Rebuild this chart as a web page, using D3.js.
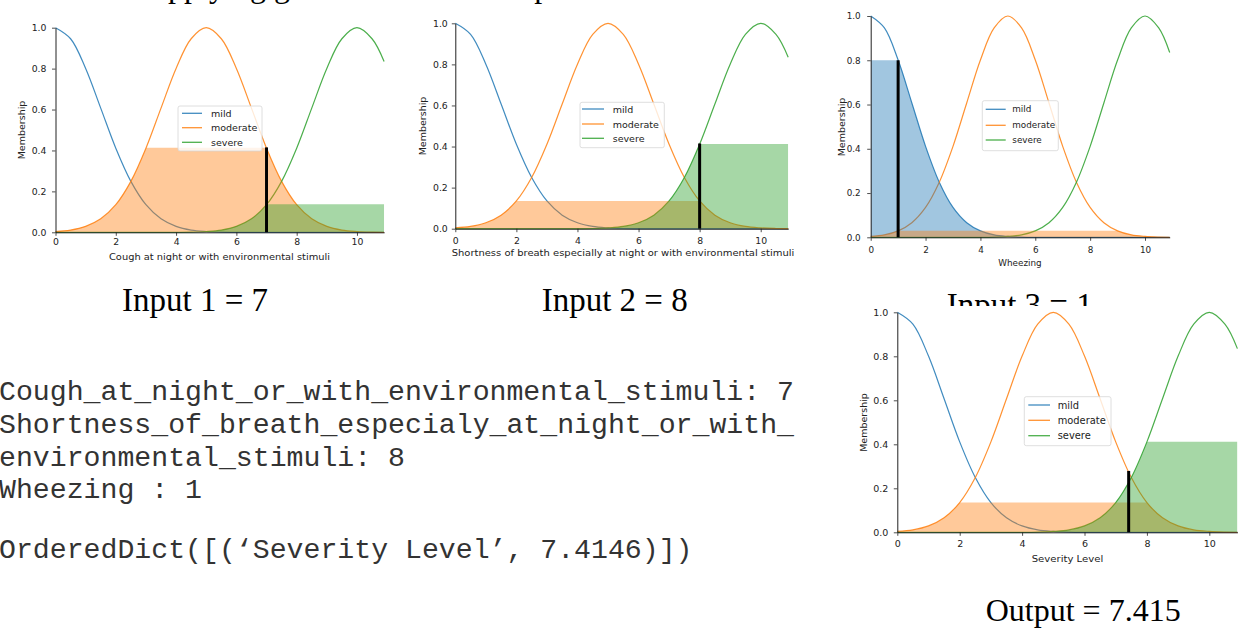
<!DOCTYPE html>
<html>
<head>
<meta charset="utf-8">
<script src="https://cdn.jsdelivr.net/npm/d3@7"></script>
<style>
  html, body { margin: 0; padding: 0; background: #fff; }
  svg { display: block; }
</style>
</head>
<body>
<svg id="chart" width="1240" height="628"></svg>
<script>
// ---------------- DATA ----------------
const xGrid = [0, 0.5, 1, 1.5, 2, 2.5, 3, 3.5, 4, 4.5, 5, 5.5, 6, 6.5, 7, 7.5, 8, 8.5, 9, 9.5, 10, 10.5, 10.9];
const mildMF = [1.000, 0.946, 0.801, 0.607, 0.411, 0.249, 0.135, 0.066, 0.029, 0.011, 0.004, 0.001, 0.000, 0, 0, 0, 0, 0, 0, 0, 0, 0, 0];
const moderateMF = [0.004, 0.011, 0.029, 0.066, 0.135, 0.249, 0.411, 0.607, 0.801, 0.946, 1.000, 0.946, 0.801, 0.607, 0.411, 0.249, 0.135, 0.066, 0.029, 0.011, 0.004, 0.001, 0.000];
const severeMF = [0, 0, 0, 0, 0, 0, 0, 0, 0.000, 0.001, 0.004, 0.011, 0.029, 0.066, 0.135, 0.249, 0.411, 0.607, 0.801, 0.946, 1.000, 0.946, 0.835];
const termNames = ["mild", "moderate", "severe"];
const axisLabels = [
  "Cough at night or with environmental stimuli",
  "Shortness of breath especially at night or with environmental stimuli",
  "Wheezing",
  "Severity Level"
];
const crispValues = [7, 8, 1, 7.415];
const crispLineTops = [0.415, 0.415, 0.80, 0.279];
const activationMild = [0, 0, 0.80, 0];
const activationModerate = [0.413, 0.135, 0.03, 0.135];
const activationSevere = [0.137, 0.412, 0, 0.412];
const xTickValues = [0, 2, 4, 6, 8, 10];
const yTickValues = [0, 0.2, 0.4, 0.6, 0.8, 1.0];
const captions = ["Input 1 = 7", "Input 2 = 8", "Input 3 = 1", "Output = 7.415"];
const topTitle = "Applying gaussian membership functions";
const consoleLines = [
  "Cough_at_night_or_with_environmental_stimuli: 7",
  "Shortness_of_breath_especialy_at_night_or_with_",
  "environmental_stimuli: 8",
  "Wheezing : 1",
  "",
  "OrderedDict([(\u2018Severity Level\u2019, 7.4146)])"
];

// ---------------- LAYOUT / STYLE ----------------
const termColors = ["#1f77b4", "#ff7f0e", "#2ca02c"];
const panels = [
  { x0: 55.5, x1: 384.1, y0: 232.3, y1: 27.7, fs: 9.3, tickBase: 245, yGap: 9,
    xlab: { x: 219.5, y: 260, w: 221 }, ylab: { x: 21.7, y: 130 },
    leg: { x: 178, y: 106, w: 84, h: 45, fs: 9.5, rows: [113.3, 127.7, 142.3], lx0: 182, lx1: 202, tx: 211 } },
  { x0: 455.3, x1: 788.2, y0: 228.7, y1: 23.3, fs: 9.3, tickBase: 244, yGap: 7.5,
    xlab: { x: 623, y: 256, w: 342.6 }, ylab: { x: 422.7, y: 126 },
    leg: { x: 580, y: 102.3, w: 84.3, h: 45.4, fs: 9.5, rows: [109, 124, 138.3], lx0: 582, lx1: 604, tx: 612.7 } },
  { x0: 870.7, x1: 1169.7, y0: 237.3, y1: 16, fs: 8.8, tickBase: 253, yGap: 10,
    xlab: { x: 1020, y: 265.7, w: 43.3 }, ylab: { x: 841, y: 127 },
    leg: { x: 982.3, y: 100.7, w: 76, h: 50, fs: 8.8, rows: [109.3, 125.3, 140], lx0: 985.7, lx1: 1005.7, tx: 1012.3 } },
  { x0: 897.3, x1: 1237.4, y0: 532.3, y1: 312.3, fs: 9.5, tickBase: 547.5, yGap: 9,
    xlab: { x: 1067.5, y: 561.7, w: 71.6 }, ylab: { x: 863.3, y: 422.5 },
    leg: { x: 1024.3, y: 396.7, w: 86.7, h: 49, fs: 9.9, rows: [405, 420.3, 435.7], lx0: 1028.3, lx1: 1050, tx: 1057.7 } }
];

const svg = d3.select("#chart");
svg.append("rect").attr("width", 1240).attr("height", 628).attr("fill", "#fff");
const defs = svg.append("defs");

// cut-off title at the very top (only descenders visible)
svg.append("text")
  .attr("x", 145).attr("y", -3.5)
  .attr("font-family", "'Liberation Serif', 'Times New Roman', serif")
  .attr("font-size", 32).attr("fill", "#000")
  .text(topTitle);

const mfSeries = [mildMF, moderateMF, severeMF];
const activations = [activationMild, activationModerate, activationSevere];

function drawPanel(p, i, g) {
  const x = d3.scaleLinear().domain([0, 10.9]).range([p.x0, p.x1]);
  const y = d3.scaleLinear().domain([0, 1]).range([p.y0, p.y1]);

  // membership curves
  const line = d3.line().x((d, k) => x(xGrid[k])).y(d => y(d)).curve(d3.curveCatmullRom.alpha(0.5));
  mfSeries.forEach((s, t) => {
    g.append("path").attr("d", line(s)).attr("fill", "none")
      .attr("stroke", termColors[t]).attr("stroke-width", 1.2).attr("stroke-opacity", 0.85);
  });

  // activation fills (membership clipped at the activation level)
  const area = d3.area().x((d, k) => x(xGrid[k])).y0(y(0)).y1(d => y(d)).curve(d3.curveCatmullRom.alpha(0.5));
  mfSeries.forEach((s, t) => {
    const lvl = activations[t][i];
    if (!lvl) return;
    const id = `clip-${i}-${t}`;
    defs.append("clipPath").attr("id", id).append("rect")
      .attr("x", x(0)).attr("y", y(lvl)).attr("width", x(10.9) - x(0)).attr("height", y(0) - y(lvl));
    g.append("path").attr("d", area(s)).attr("fill", termColors[t]).attr("fill-opacity", 0.42)
      .attr("clip-path", `url(#${id})`);
  });

  // crisp value line
  g.append("line")
    .attr("x1", x(crispValues[i])).attr("x2", x(crispValues[i]))
    .attr("y1", y(0)).attr("y2", y(crispLineTops[i]))
    .attr("stroke", "#000").attr("stroke-width", 3);

  // axes
  const xPad = p.tickBase - p.y0 - 3.5 - 0.71 * p.fs;
  const xAxis = g.append("g").attr("transform", `translate(0,${p.y0})`)
    .call(d3.axisBottom(x).tickValues(xTickValues).tickFormat(d3.format("d")).tickSize(3.5).tickSizeOuter(0).tickPadding(xPad));
  const yAxis = g.append("g").attr("transform", `translate(${p.x0},0)`)
    .call(d3.axisLeft(y).tickValues(yTickValues).tickFormat(d3.format(".1f")).tickSize(3.5).tickSizeOuter(0).tickPadding(p.yGap - 3.5));
  [xAxis, yAxis].forEach(a => {
    a.selectAll("path.domain").attr("stroke", "#222").attr("stroke-width", 1);
    a.selectAll(".tick line").attr("stroke", "#222").attr("stroke-width", 0.8);
    a.selectAll(".tick text").attr("font-family", "'DejaVu Sans', sans-serif")
      .attr("font-size", p.fs).attr("fill", "#222");
  });

  // axis labels
  g.append("text").attr("x", p.xlab.x - p.xlab.w / 2).attr("y", p.xlab.y)
    .attr("font-family", "'DejaVu Sans', sans-serif").attr("font-size", 9.5).attr("fill", "#222")
    .attr("textLength", p.xlab.w).attr("lengthAdjust", "spacingAndGlyphs")
    .text(axisLabels[i]);
  g.append("text").attr("transform", `translate(${p.ylab.x},${p.ylab.y}) rotate(-90)`)
    .attr("text-anchor", "middle").attr("dominant-baseline", "central")
    .attr("font-family", "'DejaVu Sans', sans-serif").attr("font-size", 9.5).attr("fill", "#222")
    .text("Membership");

  // legend
  const L = p.leg;
  g.append("rect").attr("x", L.x).attr("y", L.y).attr("width", L.w).attr("height", L.h)
    .attr("rx", 2).attr("fill", "#fff").attr("fill-opacity", 0.8)
    .attr("stroke", "#d6d6d6").attr("stroke-width", 0.8);
  termNames.forEach((nm, t) => {
    g.append("line").attr("x1", L.lx0).attr("x2", L.lx1).attr("y1", L.rows[t]).attr("y2", L.rows[t])
      .attr("stroke", termColors[t]).attr("stroke-width", 1.3).attr("stroke-opacity", 0.85);
    g.append("text").attr("x", L.tx).attr("y", L.rows[t]).attr("dominant-baseline", "central")
      .attr("font-family", "'DejaVu Sans', sans-serif").attr("font-size", L.fs).attr("fill", "#222")
      .text(nm);
  });
}

// captions under the input charts (third one is partly covered by the output chart)
const captionFont = "'Liberation Serif', 'Times New Roman', serif";
defs.append("clipPath").attr("id", "capclip").append("rect")
  .attr("x", 0).attr("y", 0).attr("width", 1240).attr("height", 306);
const capPos = [[122, 311], [541.7, 311], [946.7, 316], [985.7, 621]];
const capSize = [33, 33, 33, 32];
captions.forEach((c, k) => {
  const t = svg.append("text").attr("x", capPos[k][0]).attr("y", capPos[k][1])
    .attr("font-family", captionFont).attr("font-size", capSize[k]).attr("fill", "#000")
    .text(c);
  if (k === 2) t.attr("clip-path", "url(#capclip)");
});

panels.forEach((p, i) => drawPanel(p, i, svg.append("g")));

// console output text
const consoleBase = [400, 433, 465.7, 498.3, 530, 558];
consoleLines.forEach((ln, k) => {
  if (!ln) return;
  svg.append("text").attr("x", -1).attr("y", consoleBase[k])
    .attr("font-family", "'Liberation Mono', 'Courier New', monospace")
    .attr("font-size", 28.2).attr("fill", "#333")
    .attr("xml:space", "preserve")
    .text(ln);
});
</script>
</body>
</html>
